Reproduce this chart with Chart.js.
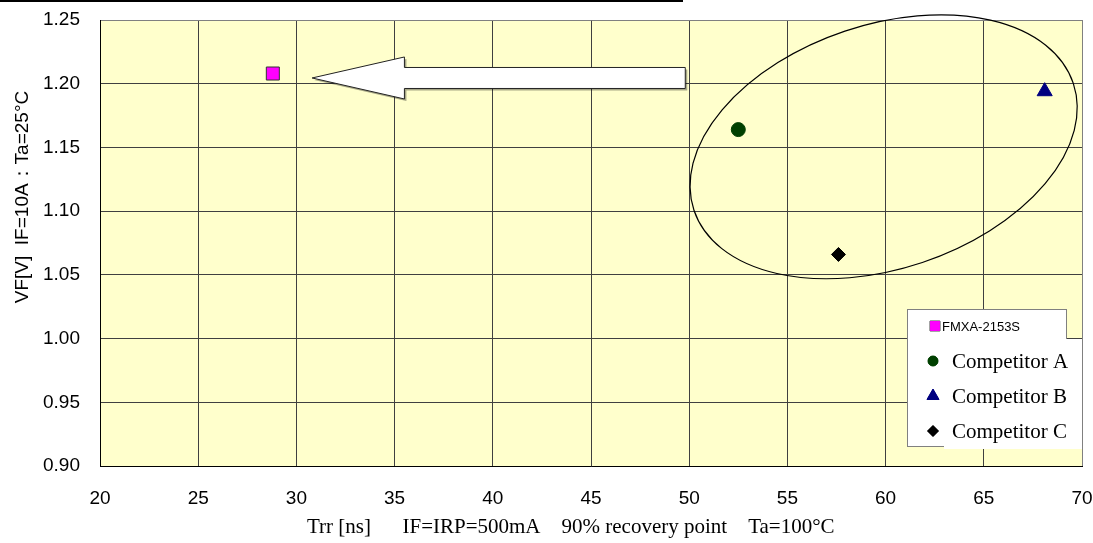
<!DOCTYPE html>
<html>
<head>
<meta charset="utf-8">
<script src="https://cdn.jsdelivr.net/npm/chart.js@4"></script>
<style>
  html, body { margin: 0; padding: 0; background: #fff; }
  #wrap { position: relative; width: 1093px; height: 543px; }
</style>
</head>
<body>
<div id="wrap"><canvas id="c" width="1093" height="543"></canvas></div>
<script>
// --- data ---
const seriesNames = ["FMXA-2153S", "Competitor A", "Competitor B", "Competitor C"];
const trrValues = [28.8, 52.5, 68.1, 57.6];      // Trr [ns]
const vfValues = [1.208, 1.164, 1.194, 1.066];   // VF [V]
const xTicks = [20, 25, 30, 35, 40, 45, 50, 55, 60, 65, 70];
const yTicks = [0.90, 0.95, 1.00, 1.05, 1.10, 1.15, 1.20, 1.25];
const xTitle = 'Trr [ns]      IF=IRP=500mA    90% recovery point    Ta=100\u00B0C';
const yTitle = 'VF[V]  IF=10A\uFF1ATa=25\u00B0C';

const markerStyles = [
  { pointStyle: 'rect', radius: 9.2, fill: '#ff00ff', stroke: '#333333', lr: 7 },
  { pointStyle: 'circle', radius: 7, fill: '#004000', stroke: '#004000', lr: 5 },
  { pointStyle: 'triangle', radius: 8.7, fill: '#000080', stroke: '#000080', lr: 7 },
  { pointStyle: 'rectRot', radius: 7, fill: '#000000', stroke: '#000000', lr: 5.5 }
];

const datasets = seriesNames.map((name, i) => ({
  label: name,
  data: [{ x: trrValues[i], y: vfValues[i] }],
  pointStyle: markerStyles[i].pointStyle,
  pointRadius: markerStyles[i].radius,
  pointHoverRadius: markerStyles[i].radius,
  backgroundColor: markerStyles[i].fill,
  borderColor: markerStyles[i].stroke,
  pointBorderWidth: 1,
  showLine: false
}));

// yellow plot background
const plotBg = {
  id: 'plotBg',
  beforeDraw(chart) {
    const { ctx, chartArea: a } = chart;
    ctx.save();
    ctx.fillStyle = '#ffffcc';
    ctx.fillRect(a.left, a.top, a.right - a.left, a.bottom - a.top);
    ctx.restore();
  }
};

// hollow arrow and the ellipse round the competitors
const callouts = {
  id: 'callouts',
  afterDatasetsDraw(chart) {
    const { ctx, scales: { x, y } } = chart;
    const tipX = x.getPixelForValue(30.8);
    const baseX = x.getPixelForValue(35.5);
    const tailX = x.getPixelForValue(49.8);
    const midY = y.getPixelForValue(1.2045);
    const shaft = 10.5, head = 21;

    ctx.save();
    ctx.beginPath();
    ctx.moveTo(tipX, midY);
    ctx.lineTo(baseX, midY - head);
    ctx.lineTo(baseX, midY - shaft);
    ctx.lineTo(tailX, midY - shaft);
    ctx.lineTo(tailX, midY + shaft);
    ctx.lineTo(baseX, midY + shaft);
    ctx.lineTo(baseX, midY + head);
    ctx.closePath();
    ctx.shadowColor = 'rgba(0,0,0,0.35)';
    ctx.shadowOffsetX = 2;
    ctx.shadowOffsetY = 2;
    ctx.fillStyle = '#ffffff';
    ctx.fill();
    ctx.shadowColor = 'transparent';
    ctx.strokeStyle = '#222222';
    ctx.lineWidth = 1;
    ctx.stroke();

    const cx = x.getPixelForValue(59.9);
    const cy = y.getPixelForValue(1.1505);
    ctx.beginPath();
    ctx.ellipse(cx, cy, 200, 122, -18.5 * Math.PI / 180, 0, Math.PI * 2);
    ctx.strokeStyle = '#000000';
    ctx.lineWidth = 1.2;
    ctx.stroke();
    ctx.restore();
  }
};

// legend box, axis titles and the cut-off heading line
const extras = {
  id: 'extras',
  afterDraw(chart) {
    const { ctx } = chart;
    ctx.save();

    // cut-off heading underline at the very top
    ctx.fillStyle = '#000000';
    ctx.fillRect(0, 0, 683, 2);

    // legend frame
    ctx.fillStyle = '#ffffff';
    ctx.fillRect(907, 309, 159, 137);
    ctx.strokeStyle = '#808080';
    ctx.lineWidth = 1;
    ctx.strokeRect(907.5, 309.5, 159, 137);
    // white text box laid over it
    ctx.fillStyle = '#ffffff';
    ctx.fillRect(944, 339, 138, 110);

    const rowY = [326, 361, 396, 431];
    chart.data.datasets.forEach((ds, i) => {
      const m = markerStyles[i];
      const mx = i === 0 ? 935 : 933;
      ctx.fillStyle = m.fill;
      ctx.strokeStyle = m.stroke;
      ctx.lineWidth = 1;
      Chart.helpers.drawPoint(ctx, { pointStyle: m.pointStyle, radius: m.lr, rotation: 0, borderWidth: 1 }, mx, rowY[i]);
      ctx.fill();
      ctx.fillStyle = '#000000';
      ctx.textBaseline = 'middle';
      ctx.textAlign = 'left';
      if (i === 0) {
        ctx.font = '13px "Liberation Sans", Arial, sans-serif';
        ctx.fillText(ds.label, 942, rowY[i] + 1);
      } else {
        ctx.font = '21px "Liberation Serif", "Times New Roman", serif';
        ctx.fillText(ds.label, 952, rowY[i] + 1);
      }
    });

    // x axis title
    ctx.fillStyle = '#000000';
    ctx.font = '21px "Liberation Serif", "Times New Roman", serif';
    ctx.textAlign = 'left';
    ctx.textBaseline = 'alphabetic';
    ctx.fillText(xTitle, 307, 533);

    // y axis title
    ctx.translate(23, 197);
    ctx.rotate(-Math.PI / 2);
    ctx.font = '19px "Liberation Sans", Arial, sans-serif';
    ctx.textAlign = 'center';
    ctx.textBaseline = 'middle';
    ctx.fillText(yTitle, 0, 0);
    ctx.restore();
  }
};

new Chart(document.getElementById('c'), {
  type: 'scatter',
  data: { datasets },
  plugins: [plotBg, callouts, extras],
  options: {
    responsive: false,
    animation: false,
    layout: { padding: { top: 20, right: 11, left: 0, bottom: 0 } },
    plugins: { legend: { display: false }, tooltip: { enabled: false } },
    scales: {
      x: {
        type: 'linear',
        min: xTicks[0],
        max: xTicks[xTicks.length - 1],
        afterBuildTicks: (s) => { s.ticks = xTicks.map(v => ({ value: v })); },
        afterFit: (s) => { s.height = 77; s.paddingLeft = 0; s.paddingRight = 0; },
        ticks: {
          color: '#000000',
          padding: 21,
          maxRotation: 0,
          font: { family: '"Liberation Sans", Arial, sans-serif', size: 19 }
        },
        grid: {
          drawTicks: false,
          color: (c) => (c.tick && c.tick.value === 70 ? '#808080' : '#404040'),
          lineWidth: 1
        },
        border: { color: '#000000', width: 1 }
      },
      y: {
        type: 'linear',
        min: yTicks[0],
        max: yTicks[yTicks.length - 1],
        afterBuildTicks: (s) => { s.ticks = yTicks.map(v => ({ value: v })); },
        afterFit: (s) => { s.width = 100; s.paddingTop = 0; s.paddingBottom = 0; },
        ticks: {
          color: '#000000',
          padding: 20,
          font: { family: '"Liberation Sans", Arial, sans-serif', size: 19 },
          callback: (v) => Number(v).toFixed(2)
        },
        grid: {
          drawTicks: false,
          color: (c) => (c.tick && c.tick.value === 1.25 ? '#808080' : '#404040'),
          lineWidth: 1
        },
        border: { color: '#000000', width: 1 }
      }
    }
  }
});
</script>
</body>
</html>
